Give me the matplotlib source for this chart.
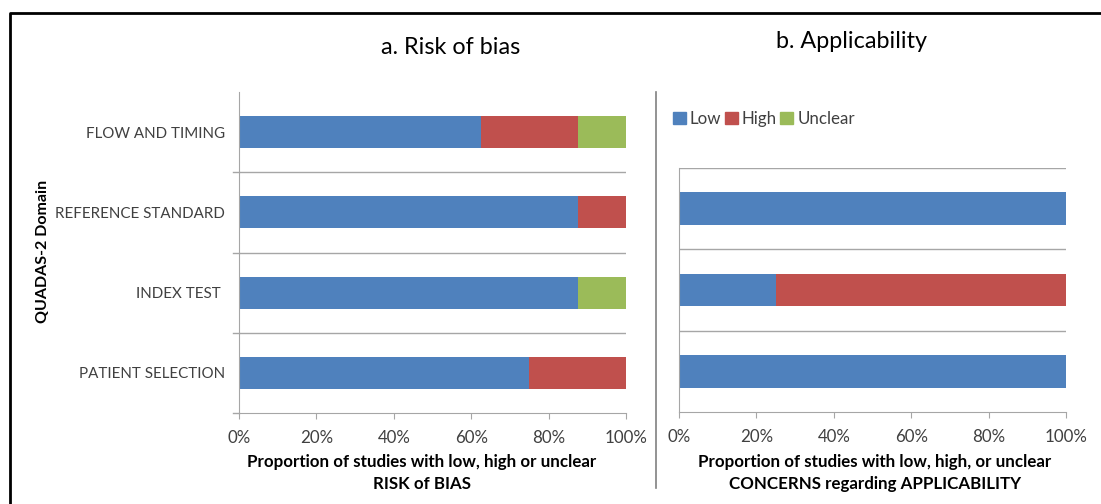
import matplotlib.pyplot as plt
from matplotlib.lines import Line2D
from matplotlib.patches import Patch

plt.rcParams['font.family'] = ['Lato', 'DejaVu Sans']

# Risk of bias (percent), categories bottom to top
bias_domains = ['PATIENT SELECTION', 'INDEX TEST ', 'REFERENCE STANDARD', 'FLOW AND TIMING']
bias_low = [75, 87.5, 87.5, 62.5]
bias_high = [25, 0, 12.5, 25]
bias_unclear = [0, 12.5, 0, 12.5]

# Applicability concerns (percent), bottom to top
appl_low = [100, 25, 100]
appl_high = [0, 75, 0]
appl_unclear = [0, 0, 0]

xticks = [0, 20, 40, 60, 80, 100]
xtick_labels = ['0%', '20%', '40%', '60%', '80%', '100%']

c_low = '#4F81BD'
c_high = '#C0504D'
c_unclear = '#9BBB59'
grid_c = '#A6A6A6'
text_c = '#404040'

W, H = 1101, 504
fig = plt.figure(figsize=(W / 100, H / 100), dpi=100)


def ax_rect(x0, y0, x1, y1):
    return [x0 / W, 1 - y1 / H, (x1 - x0) / W, (y1 - y0) / H]


def stacked(ax, low, high, unclear):
    pos = list(range(len(low)))
    left2 = [a + b for a, b in zip(low, high)]
    ax.barh(pos, low, height=0.4, color=c_low)
    ax.barh(pos, high, left=low, height=0.4, color=c_high)
    ax.barh(pos, unclear, left=left2, height=0.4, color=c_unclear)
    ax.set_xlim(0, 100)
    ax.set_ylim(-0.5, len(low) - 0.5)
    ax.set_xticks(xticks)
    ax.set_xticklabels(xtick_labels, fontsize=12.2, color=text_c)
    ax.tick_params(axis='x', length=4, color=grid_c, pad=8)
    for s in ['top', 'right']:
        ax.spines[s].set_visible(False)
    for s in ['left', 'bottom']:
        ax.spines[s].set_color(grid_c)
    return pos


xlab_kw = dict(fontsize=12.2, fontweight='bold', color='black', linespacing=1.45)

# panel a
ax1 = fig.add_axes(ax_rect(239, 92, 626, 413))
pos = stacked(ax1, bias_low, bias_high, bias_unclear)
ax1.set_yticks(pos)
ax1.set_yticklabels(bias_domains, fontsize=10.9, color=text_c)
ax1.tick_params(axis='y', length=0, pad=10)
for b in [0.5, 1.5, 2.5]:
    ax1.axhline(b, color=grid_c, lw=1, zorder=0)
    ax1.plot([-1.5, 0], [b, b], color=grid_c, lw=1, clip_on=False)
ax1.plot([-1.5, 0], [-0.5, -0.5], color=grid_c, lw=1, clip_on=False)
ax1.set_xlabel('Proportion of studies with low, high or unclear\nRISK of BIAS', **xlab_kw)
ax1.xaxis.set_label_coords((422 - 239) / (626 - 239), -(492 - 413) / (413 - 92))
ax1.xaxis.label.set_va('bottom')

# panel b
ax2 = fig.add_axes(ax_rect(679, 168, 1066, 412))
pos2 = stacked(ax2, appl_low, appl_high, appl_unclear)
ax2.set_yticks([])
for b in [0.5, 1.5, 2.5]:
    ax2.axhline(b, color=grid_c, lw=1, zorder=0)
ax2.set_xlabel('Proportion of studies with low, high, or unclear\nCONCERNS regarding APPLICABILITY', **xlab_kw)
ax2.xaxis.set_label_coords((875 - 679) / (1066 - 679), -(492 - 412) / (412 - 168))
ax2.xaxis.label.set_va('bottom')

fig.text(451 / W, 1 - 47 / H, 'a. Risk of bias', fontsize=16.8, ha='center', va='center')
fig.text(851 / W, 1 - 42 / H, 'b. Applicability', fontsize=16.8, ha='center', va='center')
fig.text(43 / W, 1 - 251 / H, 'QUADAS-2 Domain', fontsize=11.5, fontweight='bold',
         rotation=90, ha='center', va='center')

handles = [Patch(color=c_low, label='Low'), Patch(color=c_high, label='High'),
           Patch(color=c_unclear, label='Unclear')]
fig.legend(handles=handles, loc='center left', bbox_to_anchor=(673 / W, 1 - 119 / H),
           ncol=3, frameon=False, fontsize=12.2, handlelength=0.75, handleheight=0.75,
           handletextpad=0.25, columnspacing=0.2, labelcolor=text_c,
           borderpad=0, borderaxespad=0)

# divider and outer border
fig.add_artist(Line2D([656 / W, 656 / W], [1 - 92 / H, 1 - 488 / H], color='#808080', lw=1.2))
fig.add_artist(Line2D([9.5 / W, 9.5 / W, 1], [0, 1 - 13 / H, 1 - 13 / H], color='black', lw=2))

fig.savefig('out.png', dpi=100)
